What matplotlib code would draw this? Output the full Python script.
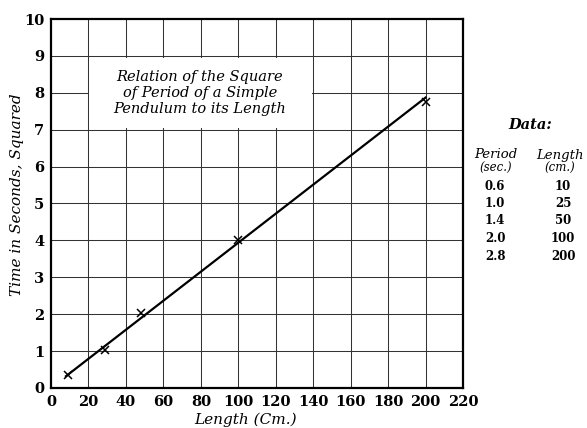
import matplotlib
matplotlib.use("Agg")
import matplotlib.pyplot as plt
import matplotlib.patches as patches

# Measured points (length in cm, period squared) as plotted
length_pts = [9, 29, 48, 100, 200]
period_sq_pts = [0.35, 1.02, 2.02, 4.02, 7.75]

# Fitted straight line endpoints
line_x = [8, 200]
line_y = [0.32, 7.87]

# Data table
periods = ["0.6", "1.0", "1.4", "2.0", "2.8"]
lengths = ["10", "25", "50", "100", "200"]

x_ticks = list(range(0, 221, 20))
y_ticks = list(range(0, 11))

plt.rcParams['font.family'] = ['DejaVu Serif']

fig = plt.figure(figsize=(5.87, 4.28), dpi=100)
ax = fig.add_axes([0.0869, 0.0935, 0.7019, 0.8621])
ax.set_xlim(0, 220)
ax.set_ylim(0, 10)

# grid
for xv in x_ticks[1:-1]:
    ax.axvline(xv, color='#333333', lw=0.75, zorder=1)
for yv in y_ticks[1:-1]:
    ax.axhline(yv, color='#333333', lw=0.75, zorder=1)

# white box for the title
ax.add_patch(patches.Rectangle((20.5, 7.05), 119, 1.9, facecolor='white',
                               edgecolor='none', zorder=2))
ax.text(79.5, 8.0, "Relation of the Square\nof Period of a Simple\nPendulum to its Length",
        ha='center', va='center', fontsize=10.5, style='italic', fontweight='medium',
        linespacing=1.2, zorder=3)

ax.plot(line_x, line_y, color='black', lw=1.6, zorder=4)
ax.plot(length_pts, period_sq_pts, 'x', color='black', ms=6, mew=1.1, zorder=5)

ax.set_xticks(x_ticks)
ax.set_yticks(y_ticks)
ax.tick_params(length=0, labelsize=10.5, pad=5)
for lab in ax.get_xticklabels() + ax.get_yticklabels():
    lab.set_fontweight('bold')
for s in ax.spines.values():
    s.set_linewidth(1.6)

fig.text(246 / 587, 1 - 420 / 428, "Length (Cm.)", ha='center', va='center',
         fontsize=11, style='italic')
fig.text(17 / 587, 1 - 195 / 428, "Time in Seconds, Squared", ha='center', va='center',
         rotation=90, fontsize=11, style='italic')

# data table on the right
fig.text(530 / 587, 1 - 125 / 428, "Data:", ha='center', va='center', fontsize=10.5,
         style='italic', fontweight='bold')
fig.text(496 / 587, 1 - 155 / 428, "Period", ha='center', va='center', fontsize=9.5,
         style='italic')
fig.text(496 / 587, 1 - 168 / 428, "(sec.)", ha='center', va='center', fontsize=8.5,
         style='italic')
fig.text(560 / 587, 1 - 155 / 428, "Length", ha='center', va='center', fontsize=9.5,
         style='italic')
fig.text(560 / 587, 1 - 168 / 428, "(cm.)", ha='center', va='center', fontsize=8.5,
         style='italic')
for i, (p, l) in enumerate(zip(periods, lengths)):
    yy = 1 - (186 + i * 17.5) / 428
    fig.text(495 / 587, yy, p, ha='center', va='center', fontsize=8.5, fontweight='bold')
    fig.text(563 / 587, yy, l, ha='center', va='center', fontsize=8.5, fontweight='bold')

fig.savefig("out.png", dpi=100)
